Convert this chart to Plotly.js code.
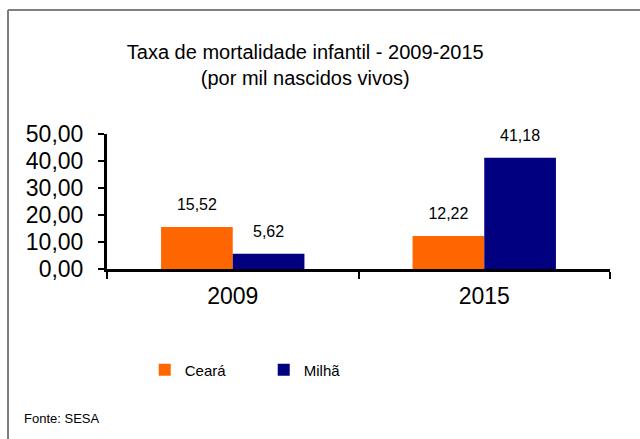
<!DOCTYPE html>
<html>
<head>
<meta charset="utf-8">
<script src="https://cdn.plot.ly/plotly-3.0.1.min.js"></script>
<style>
  html, body { margin: 0; padding: 0; background: #fff; }
  #chart { width: 640px; height: 439px; }
</style>
</head>
<body>
<div id="chart"></div>
<script>
var years = ['2009', '2015'];
var ceara = [15.52, 12.22];
var milha = [5.62, 41.18];
var seriesNames = ['Ceará', 'Milhã'];
var seriesColors = ['#FF6600', '#000080'];
var yTicks = [0, 10, 20, 30, 40, 50];

var baseFont = 'Liberation Sans, Arial, sans-serif';

function barTrace(name, values, color, grp) {
	return {
		type: 'bar',
		name: name,
		x: years,
		y: values,
		offsetgroup: grp,
		marker: { color: color },
		hoverinfo: 'none'
	};
}

// value labels, lifted a bit higher above the bars than plain bar text
function labelTrace(values, grp) {
	return {
		type: 'scatter',
		mode: 'markers+text',
		x: years,
		y: values,
		offsetgroup: grp,
		marker: { size: 19, opacity: 0 },
		text: values.map(function(v) { return v.toFixed(2).replace('.', ','); }),
		textposition: 'top center',
		textfont: { family: baseFont, size: 16, color: '#000' },
		cliponaxis: false,
		showlegend: false,
		hoverinfo: 'none'
	};
}

var data = [
	barTrace(seriesNames[0], ceara, seriesColors[0], 'a'),
	barTrace(seriesNames[1], milha, seriesColors[1], 'b'),
	labelTrace(ceara, 'a'),
	labelTrace(milha, 'b')
];

var layout = {
	width: 640,
	height: 439,
	paper_bgcolor: '#fff',
	plot_bgcolor: '#fff',
	separators: ',.',
	margin: { l: 107, r: 30, t: 134, b: 170, autoexpand: false },
	barmode: 'group',
	bargap: 0.43,
	bargroupgap: 0,
	scattermode: 'group',
	scattergap: 0.43,
	font: { family: baseFont, color: '#000' },
	title: {
		text: 'Taxa de mortalidade infantil - 2009-2015<br>(por mil nascidos vivos)',
		font: { family: baseFont, size: 20, color: '#000' },
		xref: 'container', x: 0.477, xanchor: 'center',
		yref: 'container', y: 0.866, yanchor: 'middle'
	},
	xaxis: {
		type: 'category',
		showline: true, linecolor: '#000', linewidth: 3,
		ticks: 'outside', tickson: 'boundaries', ticklen: 7, tickwidth: 2, tickcolor: '#000',
		tickfont: { family: baseFont, size: 23, color: '#000' },
		ticklabelstandoff: 4,
		showgrid: false, zeroline: false, fixedrange: true
	},
	yaxis: {
		range: [0, 50],
		tickvals: yTicks,
		tickformat: '.2f',
		showline: true, linecolor: '#000', linewidth: 3,
		ticks: 'outside', ticklen: 6, tickwidth: 2, tickcolor: '#000',
		tickfont: { family: baseFont, size: 23, color: '#000' },
		ticklabelstandoff: 10,
		showgrid: false, zeroline: false, fixedrange: true
	},
	showlegend: true,
	legend: {
		orientation: 'h',
		x: 0.075, xanchor: 'left',
		y: -0.748, yanchor: 'middle',
		entrywidth: 74,
		font: { family: baseFont, size: 15, color: '#000' },
		bgcolor: 'rgba(0,0,0,0)'
	},
	annotations: [{
		text: 'Fonte: SESA',
		xref: 'paper', yref: 'paper',
		x: -0.169, y: -1.104, xanchor: 'left', yanchor: 'middle',
		showarrow: false,
		font: { family: baseFont, size: 13, color: '#000' }
	}],
	shapes: [
		{ type: 'line', xref: 'paper', yref: 'paper', x0: -0.1968, x1: 1.1, y0: 1.9185, y1: 1.9185,
		  line: { color: '#7f7f7f', width: 2 } },
		{ type: 'line', xref: 'paper', yref: 'paper', x0: -0.1968, x1: -0.1968, y0: 1.9185, y1: -1.4,
		  line: { color: '#7f7f7f', width: 2 } }
	]
};

Plotly.newPlot('chart', data, layout, { displayModeBar: false, staticPlot: true });
</script>
</body>
</html>
